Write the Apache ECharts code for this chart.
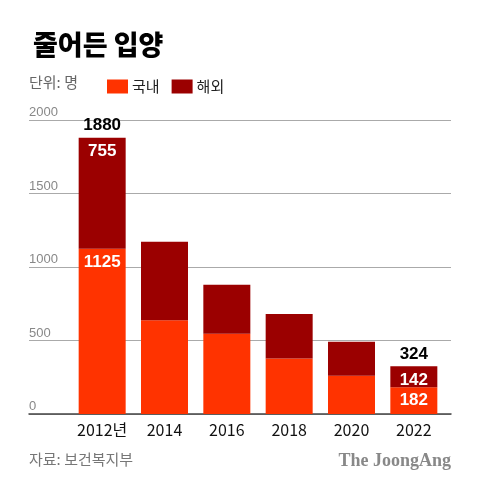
<!DOCTYPE html>
<html>
<head>
<meta charset="utf-8">
<script src="https://cdn.jsdelivr.net/npm/echarts@6/dist/echarts.min.js"></script>
<style>
html,body{margin:0;padding:0;background:#fff;}
#c{width:480px;height:490px;}
</style>
</head>
<body>
<div id="c"></div>
<script>
const categories = ['2012년', '2014', '2016', '2018', '2020', '2022'];
const domestic = [1125, 637, 546, 378, 260, 182];
const overseas = [755, 535, 334, 303, 232, 142];
const totals = [1880, 1172, 880, 681, 492, 324];
const labeledIdx = [0, 5];
const yTicks = [0, 500, 1000, 1500, 2000];

const FONT = '"Noto Sans CJK KR", "Noto Sans", sans-serif';
const NUMFONT = '"Liberation Sans", Arial, sans-serif';

const chart = echarts.init(document.getElementById('c'), null, {renderer: 'canvas'});

const valLabel = {
  show: true, position: 'insideTop', distance: 5,
  color: '#fff', fontSize: 17, fontWeight: 'bold', fontFamily: NUMFONT
};
const totLabel = {
  position: 'top', distance: 3, color: '#000', opacity: 1, textBorderWidth: 0,
  fontSize: 17, fontWeight: 'bold', fontFamily: NUMFONT
};

chart.setOption({
  animation: false,
  backgroundColor: '#fff',
  title: {
    text: '줄어든 입양', left: 28, top: 26,
    textStyle: {fontFamily: FONT, fontSize: 27, fontWeight: 900, color: '#000'}
  },
  legend: {
    data: ['국내', '해외'], left: 102, top: 74, icon: 'rect',
    itemWidth: 21, itemHeight: 14, itemGap: 12,
    textStyle: {fontFamily: FONT, fontSize: 15, color: '#222', padding: [0,0,0,-1]}
  },
  graphic: [
    {type: 'text', left: 29, top: 75, style: {text: '단위: 명', font: '15px ' + FONT, fill: '#666'}},
    {type: 'text', left: 29, top: 452, style: {text: '자료: 보건복지부', font: '15px ' + FONT, fill: '#777'}},
    {type: 'text', right: 29, top: 452, style: {text: 'The JoongAng', font: 'bold 18px "Liberation Serif", "DejaVu Serif", serif', fill: '#888'}}
  ],
  grid: [
    {left: 29, right: 29, top: 120, bottom: 76},
    {left: 71, right: 35, top: 120, bottom: 76}
  ],
  xAxis: [
    {gridIndex: 0, type: 'value', min: 0, max: 1, show: true,
     axisLine: {show: true, onZero: false, lineStyle: {color: '#444', width: 1.5}},
     axisTick: {show: false}, axisLabel: {show: false}, splitLine: {show: false}},
    {gridIndex: 1, type: 'category', data: categories,
     axisLine: {show: false}, axisTick: {show: false},
     axisLabel: {interval: 0, margin: 8, fontSize: 16, color: '#111', fontFamily: FONT}}
  ],
  yAxis: [
    {gridIndex: 0, type: 'value', min: yTicks[0], max: yTicks[yTicks.length-1], interval: 500,
     axisLine: {show: false}, axisTick: {show: false},
     axisLabel: {inside: true, margin: 0, verticalAlign: 'bottom', padding: [0,0,1,0],
                 fontSize: 13, color: '#888', fontFamily: NUMFONT,
                 formatter: v => String(v)},
     splitLine: {show: true, lineStyle: {color: '#aaa', width: 1}}},
    {gridIndex: 1, type: 'value', min: 0, max: 2000, show: false}
  ],
  series: [
    {name: '국내', type: 'bar', stack: 't', xAxisIndex: 1, yAxisIndex: 1, barWidth: 47,
     itemStyle: {color: '#FF3300'},
     data: domestic.map((v, i) => ({value: v, label: Object.assign({}, valLabel, {show: labeledIdx.includes(i)})}))},
    {name: '해외', type: 'bar', stack: 't', xAxisIndex: 1, yAxisIndex: 1, barWidth: 47,
     itemStyle: {color: '#9B0000'},
     data: overseas.map((v, i) => ({value: v, label: Object.assign({}, valLabel, {show: labeledIdx.includes(i)})}))},
    {name: '합계', type: 'scatter', xAxisIndex: 1, yAxisIndex: 1, symbolSize: 1,
     itemStyle: {color: 'rgba(0,0,0,0)', opacity: 1},
     emphasis: {disabled: true},
     data: totals.map((v, i) => ({value: v, label: Object.assign({}, totLabel, {show: labeledIdx.includes(i)})})),
     label: Object.assign({}, totLabel, {formatter: p => String(p.value)})}
  ]
});
</script>
</body>
</html>
